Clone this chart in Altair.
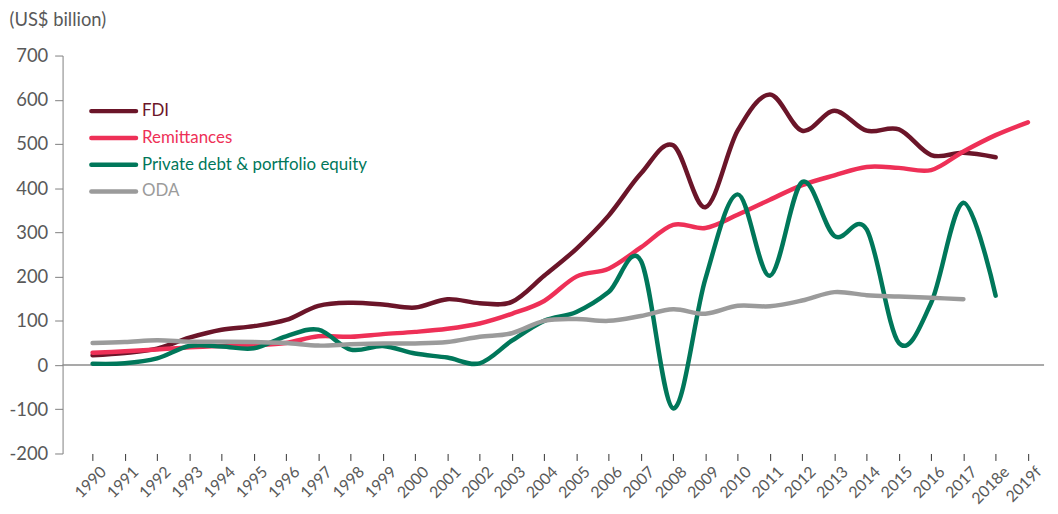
import json
import altair as alt
import pandas as pd

# ---------------- data ----------------
years = ["1990", "1991", "1992", "1993", "1994", "1995", "1996", "1997", "1998", "1999",
         "2000", "2001", "2002", "2003", "2004", "2005", "2006", "2007", "2008", "2009",
         "2010", "2011", "2012", "2013", "2014", "2015", "2016", "2017", "2018e", "2019f"]

series_names = ["FDI", "Remittances", "Private debt & portfolio equity", "ODA"]
series_colors = ["#6B1529", "#EE3057", "#00775A", "#9B9B9B"]

fdi = [22, 27, 37, 62, 80, 88, 102, 134, 141, 137,
       130, 149, 140, 143, 202, 263, 338, 433, 497, 357,
       530, 612, 530, 575, 530, 533, 475, 480, 470]

remittances = [28, 31, 35, 40, 43, 45, 50, 65, 64, 70,
               75, 82, 94, 116, 145, 200, 218, 266, 317, 310,
               340, 374, 407, 429, 448, 446, 441, 483, 520, 549]

private_debt = [3, 4, 15, 43, 42, 38, 65, 80, 35, 43,
                26, 17, 4, 55, 100, 120, 165, 236, -98, 195,
                386, 202, 414, 292, 307, 50, 141, 367, 157]

oda = [50, 52, 56, 53, 53, 52, 50, 44, 47, 49,
       49, 52, 64, 72, 100, 104, 100, 111, 126, 116,
       134, 133, 146, 165, 158, 155, 152, 149]

y_ticks = [-200, -100, 0, 100, 200, 300, 400, 500, 600, 700]

rows = []
for name, vals in zip(series_names, [fdi, remittances, private_debt, oda]):
    for i, v in enumerate(vals):
        rows.append({"series": name, "idx": i, "year": years[i], "value": v})
df = pd.DataFrame(rows)

legend_df = pd.DataFrame({"series": series_names, "rank": list(range(len(series_names)))})
zero_df = pd.DataFrame({"value": [0]})

# ---------------- styling ----------------
FONT = "Lato"
LABEL_COLOR = "#595959"

color_scale = alt.Scale(domain=series_names, range=series_colors)
y_scale = alt.Scale(domain=[-200, 700], nice=False, zero=False)
x_scale = alt.Scale(domain=[-0.93, 29.5], nice=False, zero=False)

label_expr = json.dumps(years) + "[datum.value]"

x_enc = alt.X(
    "idx:Q",
    scale=x_scale,
    axis=alt.Axis(
        values=list(range(len(years))),
        labelExpr=label_expr,
        labelAngle=-45,
        labelAlign="right",
        labelBaseline="top",
        labelPadding=3,
        labelOffset=5,
        labelFont=FONT,
        labelFontSize=16,
        labelColor=LABEL_COLOR,
        domain=False,
        grid=False,
        ticks=True,
        tickSize=7,
        tickColor="#333333",
        labelOverlap=False,
        title=None,
    ),
)

y_axis = alt.Axis(
    values=y_ticks,
    labelExpr="datum.value < 0 ? '-' + abs(datum.value) : '' + datum.value",
    grid=False,
    domainColor="#7F7F7F",
    tickColor="#7F7F7F",
    tickSize=8,
    labelPadding=7,
    labelFont=FONT,
    labelFontSize=18.5,
    labelColor=LABEL_COLOR,
    title="(US$ billion)",
    titleAngle=0,
    titleAlign="left",
    titleBaseline="top",
    titleX=-54,
    titleY=-45,
    titleFont=FONT,
    titleFontSize=18.5,
    titleFontWeight="normal",
    titleColor=LABEL_COLOR,
)

y_enc = alt.Y("value:Q", scale=y_scale, axis=y_axis)

zero_rule = alt.Chart(zero_df).mark_rule(
    color="#8C8C8C", strokeWidth=1.5
).encode(y=y_enc)

line_layers = []
for name in series_names:
    line_layers.append(
        alt.Chart(df)
        .transform_filter(alt.datum.series == name)
        .mark_line(interpolate="cardinal", strokeWidth=4.5, strokeCap="round", strokeJoin="round")
        .encode(
            x=x_enc,
            y=y_enc,
            color=alt.Color("series:N", scale=color_scale, legend=None),
        )
    )

main = alt.layer(zero_rule, *line_layers)

legend_y = alt.Y("rank:Q", scale=alt.Scale(domain=[0, 3], range=[56, 137]), axis=None)

legend_symbols = alt.Chart(legend_df).mark_rule(strokeWidth=4.5, strokeCap="round").encode(
    x=alt.value(29),
    x2=alt.value(74),
    y=legend_y,
    color=alt.Color("series:N", scale=color_scale, legend=None),
)

legend_text = alt.Chart(legend_df).mark_text(
    align="left", baseline="middle", font=FONT, fontSize=17
).encode(
    x=alt.value(80),
    y=legend_y,
    text="series:N",
    color=alt.Color("series:N", scale=color_scale, legend=None),
)

legend = alt.layer(legend_symbols, legend_text)

chart = (
    alt.layer(main, legend)
    .resolve_scale(y="independent")
    .properties(
        width=989,
        height=401,
        autosize=alt.AutoSizeParams(type="none"),
        padding={"left": 55, "top": 46, "right": 6, "bottom": 51},
        background="white",
    )
    .configure_view(stroke=None)
)

chart.save("out.html", embed_options={"renderer": "svg", "actions": False})
